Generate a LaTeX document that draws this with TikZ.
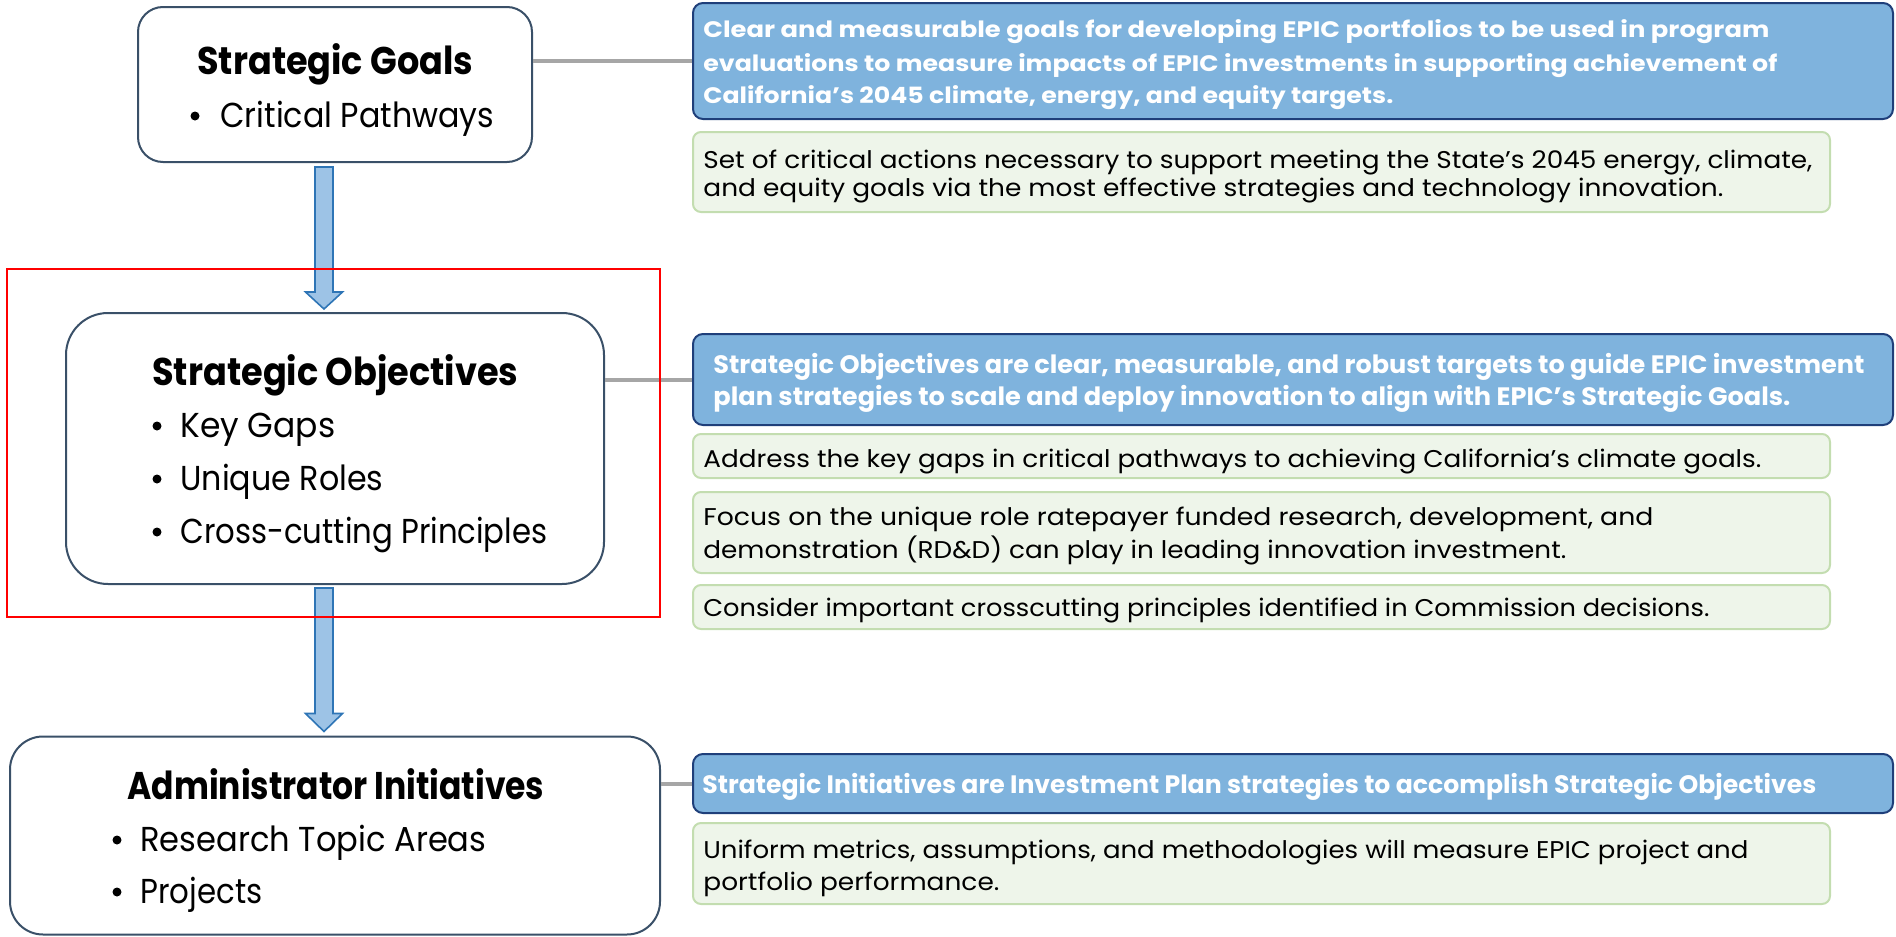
\documentclass[tikz,border=0pt]{standalone}
\usepackage{fontspec}
\setmainfont{Poppins}
\usepackage{graphicx}
\usetikzlibrary{calc}
\definecolor{boxline}{HTML}{3A5068}
\definecolor{bluefill}{HTML}{7FB3DD}
\definecolor{blueline}{HTML}{1F3F7A}
\definecolor{greenfill}{HTML}{EEF5EA}
\definecolor{greenline}{HTML}{C3DDB0}
\definecolor{connector}{HTML}{A6A6A6}
\definecolor{arrowfill}{HTML}{9DC3E6}
\definecolor{arrowline}{HTML}{2E75B6}
\definecolor{redframe}{HTML}{FF0000}
\newlength\fitnat
\newcommand\fitto[2]{\settowidth\fitnat{#2}\pgfmathsetmacro\fitsx{#1*0.5/\fitnat}\scalebox{\fitsx}[1]{#2}}
\begin{document}
\begin{tikzpicture}[x=0.5pt,y=-0.5pt,
  leftbox/.style={draw=boxline, line width=1pt, fill=white, rounded corners=#1, inner sep=0},
  bluebox/.style={draw=blueline, line width=1pt, fill=bluefill, rounded corners=5pt, inner sep=0, minimum width=600pt},
  greenbox/.style={draw=greenline, line width=1pt, fill=greenfill, rounded corners=4pt, inner sep=0, minimum width=568.5pt},
  link/.style={draw=connector, line width=2pt},
  bigarrow/.style={draw=arrowline, fill=arrowfill, line width=0.8pt, line join=miter},
  frame/.style={draw=redframe, line width=1pt, inner sep=0},
  txt/.style={inner sep=0, anchor=base west},
  ttl/.style={txt, font=\fontsize{19.3}{23}\selectfont\bfseries},
  lft/.style={txt, font=\fontsize{17.3}{21}\selectfont},
  bsmall/.style={txt, text=white, font=\fontsize{11.2}{13}\selectfont\bfseries},
  blarge/.style={txt, text=white, font=\fontsize{12.6}{15}\selectfont\bfseries},
  grn/.style={txt, font=\fontsize{12.1}{15}\selectfont},
  bul/.style={circle, fill=black, inner sep=0, minimum size=4.5pt}]
\useasboundingbox (0,0) rectangle (1896,937);

% left boxes
\node[leftbox=12.5pt, minimum width=197pt, minimum height=77.5pt] (goals) at (335,84.5) {};
\node[leftbox=21pt, minimum width=269pt, minimum height=135.5pt] (obj) at (335,448.5) {};
\node[leftbox=16.5pt, minimum width=325pt, minimum height=99pt] (admin) at (335,835.5) {};

% right boxes
\node[bluebox, minimum height=58pt] (blue1) at (1293,61) {};
\node[greenbox, minimum height=40pt] (green1) at (1261.5,172) {};
\node[bluebox, minimum height=45.5pt] (blue2) at (1293,379.5) {};
\node[greenbox, minimum height=22pt] (green2a) at (1261.5,456) {};
\node[greenbox, minimum height=40.5pt] (green2b) at (1261.5,532.5) {};
\node[greenbox, minimum height=22pt] (green2c) at (1261.5,607) {};
\node[bluebox, minimum height=29.5pt] (blue3) at (1293,783.5) {};
\node[greenbox, minimum height=40.5pt] (green3) at (1261.5,863.5) {};

% connectors
\draw[link] (blue1.west) -- (blue1.west -| goals.east);
\draw[link] (blue2.west) -- (blue2.west -| obj.east);
\draw[link] (blue3.west) -- (blue3.west -| admin.east);

% block arrows
\coordinate (a1s) at ([xshift=-5.5pt,yshift=-2pt]goals.south);
\coordinate (a1e) at ([xshift=-5.5pt,yshift=1.5pt]obj.north);
\coordinate (a2s) at ([xshift=-5.5pt,yshift=-1.5pt]obj.south);
\coordinate (a2e) at ([xshift=-5.5pt,yshift=2pt]admin.north);
\draw[bigarrow] ($(a1s)+(-9,0)$) -- ($(a1e)+(-9,-17)$) -- ($(a1e)+(-18.5,-17)$) -- (a1e) -- ($(a1e)+(18.5,-17)$) -- ($(a1e)+(9,-17)$) -- ($(a1s)+(9,0)$) -- cycle;
\draw[bigarrow] ($(a2s)+(-9,0)$) -- ($(a2e)+(-9,-18)$) -- ($(a2e)+(-18.5,-18)$) -- (a2e) -- ($(a2e)+(18.5,-18)$) -- ($(a2e)+(9,-18)$) -- ($(a2s)+(9,0)$) -- cycle;

% left texts
\node[ttl] (goalsT) at (197,74) {\fitto{276}{Strategic Goals}};
\node[bul] (goalsD1) at (195,116) {};
\node[lft] (goalsL1) at (220,127) {\fitto{274}{Critical Pathways}};

\node[ttl] (objT) at (152,385) {\fitto{366}{Strategic Objectives}};
\node[bul] (objD1) at (157,426) {};
\node[lft] (objL1) at (180,437) {\fitto{155}{Key Gaps}};
\node[bul] (objD2) at (157,479) {};
\node[lft] (objL2) at (180,490) {\fitto{203}{Unique Roles}};
\node[bul] (objD3) at (157,532) {};
\node[lft] (objL3) at (180,543) {\fitto{367}{Cross-cutting Principles}};

\node[ttl] (adminT) at (127,799) {\fitto{417}{Administrator Initiatives}};
\node[bul] (adminD1) at (117,840) {};
\node[lft] (adminL1) at (140,851) {\fitto{346}{Research Topic Areas}};
\node[bul] (adminD2) at (117,892) {};
\node[lft] (adminL2) at (140,903) {\fitto{122}{Projects}};

% right texts
\node[bsmall] (b1L1) at (703,38) {\fitto{1066}{Clear and measurable goals for developing EPIC portfolios to be used in program}};
\node[bsmall] (b1L2) at (703,71) {\fitto{1074}{evaluations to measure impacts of EPIC investments in supporting achievement of}};
\node[bsmall] (b1L3) at (703,103) {\fitto{690}{California’s 2045 climate, energy, and equity targets.}};

\node[grn] (g1L1) at (703,168) {\fitto{1109}{Set of critical actions necessary to support meeting the State’s 2045 energy, climate,}};
\node[grn] (g1L2) at (703,196) {\fitto{1020}{and equity goals via the most effective strategies and technology innovation.}};

\node[blarge] (b2L1) at (713,373) {\fitto{1151}{Strategic Objectives are clear, measurable, and robust targets to guide EPIC investment}};
\node[blarge] (b2L2) at (713,405) {\fitto{1077}{plan strategies to scale and deploy innovation to align with EPIC’s Strategic Goals.}};

\node[grn] (g2aL1) at (703,467) {\fitto{1058}{Address the key gaps in critical pathways to achieving California’s climate goals.}};
\node[grn] (g2bL1) at (703,525) {\fitto{950}{Focus on the unique role ratepayer funded research, development, and}};
\node[grn] (g2bL2) at (703,558) {\fitto{863}{demonstration (RD\&D) can play in leading innovation investment.}};
\node[grn] (g2cL1) at (703,616) {\fitto{1006}{Consider important crosscutting principles identified in Commission decisions.}};

\node[blarge] (b3L1) at (702,793) {\fitto{1114}{Strategic Initiatives are Investment Plan strategies to accomplish Strategic Objectives}};

\node[grn] (g3L1) at (703,858) {\fitto{1045}{Uniform metrics, assumptions, and methodologies will measure EPIC project and}};
\node[grn] (g3L2) at (703,890) {\fitto{296}{portfolio performance.}};

% red highlight frame
\node[frame, minimum width=326.5pt, minimum height=174pt] (redbox) at (333.5,443) {};
\end{tikzpicture}
\end{document}
